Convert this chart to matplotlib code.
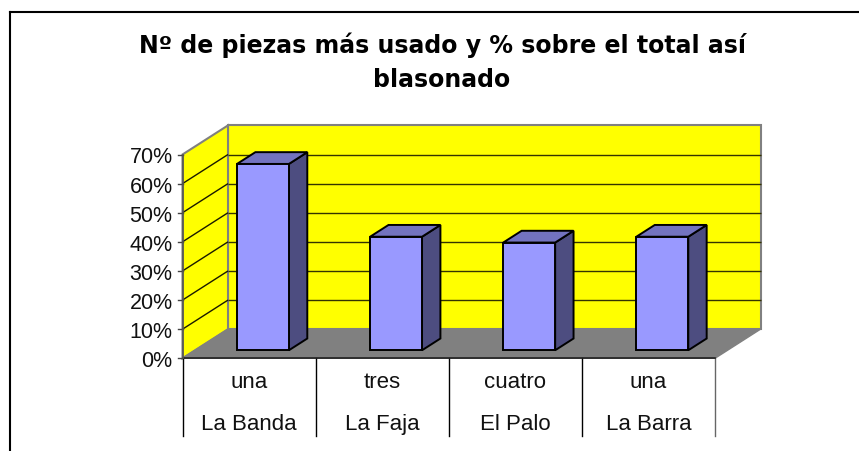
#!/usr/bin/env python3

import matplotlib as mpl
mpl.rcParams['font.family'] = 'Liberation Sans'
mpl.use("agg")
import matplotlib.pyplot as plt
from matplotlib.patches import Polygon

counts = ["una", "tres", "cuatro", "una"]
pieces = ["La Banda", "La Faja", "El Palo", "La Barra"]
values = [64, 39, 37, 39]
yticks = [0, 10, 20, 30, 40, 50, 60, 70]

W, H = 859, 452
fig = plt.figure(figsize=(W/100, H/100), dpi=100)

# front plane of the 3D box, in pixels
left, right, top, bottom = 182.5, 715.0, 155.5, 359.3
ax = fig.add_axes([left/W, 1 - bottom/H, (right-left)/W, (bottom-top)/H])
ax.set_xlim(0, len(values))
ax.set_ylim(0, 70)
ax.axis("off")

# one unit of depth moves this far in x (categories) and y (percent)
depth_x = 45.5 / ((right-left) / len(values))
depth_y = 10.0

def proj(x, y, d):
    return (x + d*depth_x, y + d*depth_y)

def face(pts, **kw):
    ax.add_patch(Polygon([proj(*p) for p in pts], closed=True, clip_on=False, **kw))

def line(p0, p1, **kw):
    a, b = proj(*p0), proj(*p1)
    ax.plot([a[0], b[0]], [a[1], b[1]], clip_on=False, solid_capstyle="butt", **kw)

n = len(values)
ymax = yticks[-1]

# walls and floor
face([(0, 0, 1), (n, 0, 1), (n, ymax, 1), (0, ymax, 1)], fc="#ffff00", ec="#808080", lw=1.5, zorder=1)
face([(0, 0, 0), (0, 0, 1), (0, ymax, 1), (0, ymax, 0)], fc="#ffff00", ec="#808080", lw=1.5, zorder=1)
face([(0, 0, 0), (n, 0, 0), (n, 0, 1), (0, 0, 1)], fc="#808080", ec="#808080", lw=1, zorder=2)

for t in yticks[1:-1]:
    line((0, t, 0), (0, t, 1), color="#1a1a00", lw=1, zorder=2)
    line((0, t, 1), (n, t, 1), color="#333300", lw=1, zorder=2)

# bars
bar_w = 0.39
d0, d1 = 0.276, 0.68
for i, v in enumerate(values):
    x0 = i + 0.51 - bar_w/2
    x1 = x0 + bar_w
    style = dict(ec="black", lw=1.4, joinstyle="miter", zorder=3)
    face([(x1, 0, d0), (x1, 0, d1), (x1, v, d1), (x1, v, d0)], fc="#4d4d80", **style)
    face([(x0, v, d0), (x1, v, d0), (x1, v, d1), (x0, v, d1)], fc="#7373bf", **style)
    face([(x0, 0, d0), (x1, 0, d0), (x1, v, d0), (x0, v, d0)], fc="#9999ff", **style)

# axis lines, ticks
ax.plot([0, n], [0, 0], color="#222222", lw=1.2, clip_on=False, zorder=4)
ax.plot([0, 0], [0, ymax], color="#555555", lw=1.2, clip_on=False, zorder=4)
tick_len = 4.5 / ((right-left) / n)
for t in yticks:
    ax.plot([-tick_len, 0], [t, t], color="#444444", lw=1, clip_on=False)
    ax.text(-0.075, t, f"{t}%", ha="right", va="center_baseline", fontsize=15.5, color="#111111")

# data table under the axis
trans = ax.get_xaxis_transform()
for i in range(n+1):
    ax.plot([i, i], [0, -78/(bottom-top)], transform=trans, clip_on=False, lw=1,
            color="#666666" if i == n else "black")
for i in range(n):
    ax.text(i+0.5, -29/(bottom-top), counts[i], transform=trans, ha="center", va="baseline",
            fontsize=16, color="#111111")
    ax.text(i+0.5, -71/(bottom-top), pieces[i], transform=trans, ha="center", va="baseline",
            fontsize=16, color="#111111")

# title, DejaVu bold gets the stretched width of the original
fig.text(442/W, 1 - 53.3/H, "Nº de piezas más usado y % sobre el total así", ha="center", va="baseline",
         fontsize=17, fontweight="bold", family="DejaVu Sans")
fig.text(442/W, 1 - 86.7/H, "blasonado", ha="center", va="baseline", fontsize=17, fontweight="bold",
         family="DejaVu Sans")

# chart border, cut off at top/left only
fig.add_artist(plt.Line2D([10/W, 10/W], [0, 1 - 13/H], color="black", lw=1.5))
fig.add_artist(plt.Line2D([10/W, 1], [1 - 13/H, 1 - 13/H], color="black", lw=1.5))

fig.savefig("out.png", dpi=100)
